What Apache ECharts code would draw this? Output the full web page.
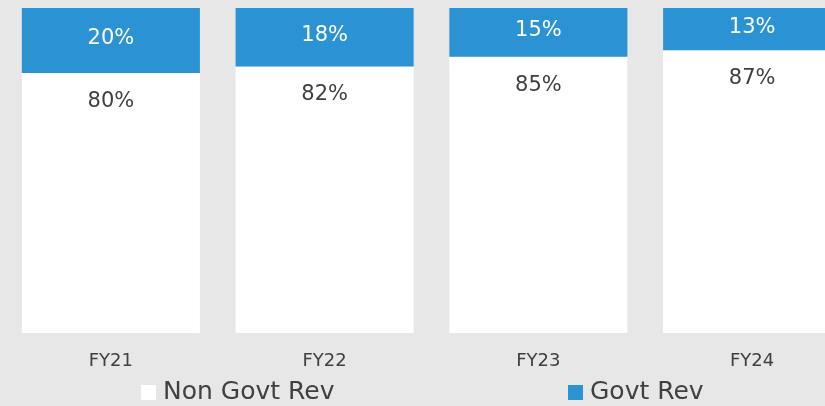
<!DOCTYPE html>
<html>
<head>
<meta charset="utf-8">
<script src="https://cdn.jsdelivr.net/npm/echarts@6/dist/echarts.min.js"></script>
<style>
  html, body { margin: 0; padding: 0; background: #e7e7e7; }
  #chart { width: 825px; height: 406px; }
</style>
</head>
<body>
<div id="chart"></div>
<script>
// Revenue mix by fiscal year (percent of total)
const categories = ['FY21', 'FY22', 'FY23', 'FY24'];
const nonGovtRev = [80, 82, 85, 87];
const govtRev = [20, 18, 15, 13];

const FONT = '"DejaVu Sans", sans-serif';
const chart = echarts.init(document.getElementById('chart'), null, { renderer: 'canvas' });

chart.setOption({
  backgroundColor: '#e7e7e7',
  animation: false,
  // the plot runs past the right edge, so the last bar is cut off
  grid: {
    left: 4, width: 855, top: 8, bottom: 73,
    containLabel: false, outerBoundsMode: 'none'
  },
  xAxis: {
    type: 'category',
    data: categories,
    axisLine: { show: false },
    axisTick: { show: false },
    axisLabel: { color: '#404040', fontFamily: FONT, fontSize: 18, margin: 19 }
  },
  yAxis: { type: 'value', min: 0, max: 100, show: false, splitLine: { show: false } },
  legend: [
    {
      data: ['Non Govt Rev'], left: 136, top: 375, itemWidth: 15, itemHeight: 15, itemGap: 0,
      icon: 'rect',
      textStyle: { color: '#404040', fontFamily: FONT, fontSize: 25, padding: [0, 0, 0, 2] }
    },
    {
      data: ['Govt Rev'], left: 563, top: 375, itemWidth: 15, itemHeight: 15, itemGap: 0,
      icon: 'rect',
      textStyle: { color: '#404040', fontFamily: FONT, fontSize: 25, padding: [0, 0, 0, 2] }
    }
  ],
  series: [
    {
      name: 'Non Govt Rev', type: 'bar', stack: 'rev', data: nonGovtRev,
      barCategoryGap: '16.7%',
      itemStyle: { color: '#ffffff' },
      label: {
        show: true, position: 'insideTop', distance: 18,
        formatter: '{c}%', color: '#404040', fontFamily: FONT, fontSize: 21
      }
    },
    {
      name: 'Govt Rev', type: 'bar', stack: 'rev', data: govtRev,
      itemStyle: { color: '#2b93d3' },
      label: {
        show: true, position: 'inside', offset: [0, -2],
        formatter: '{c}%', color: '#ffffff', fontFamily: FONT, fontSize: 21
      }
    }
  ]
});
</script>
</body>
</html>
